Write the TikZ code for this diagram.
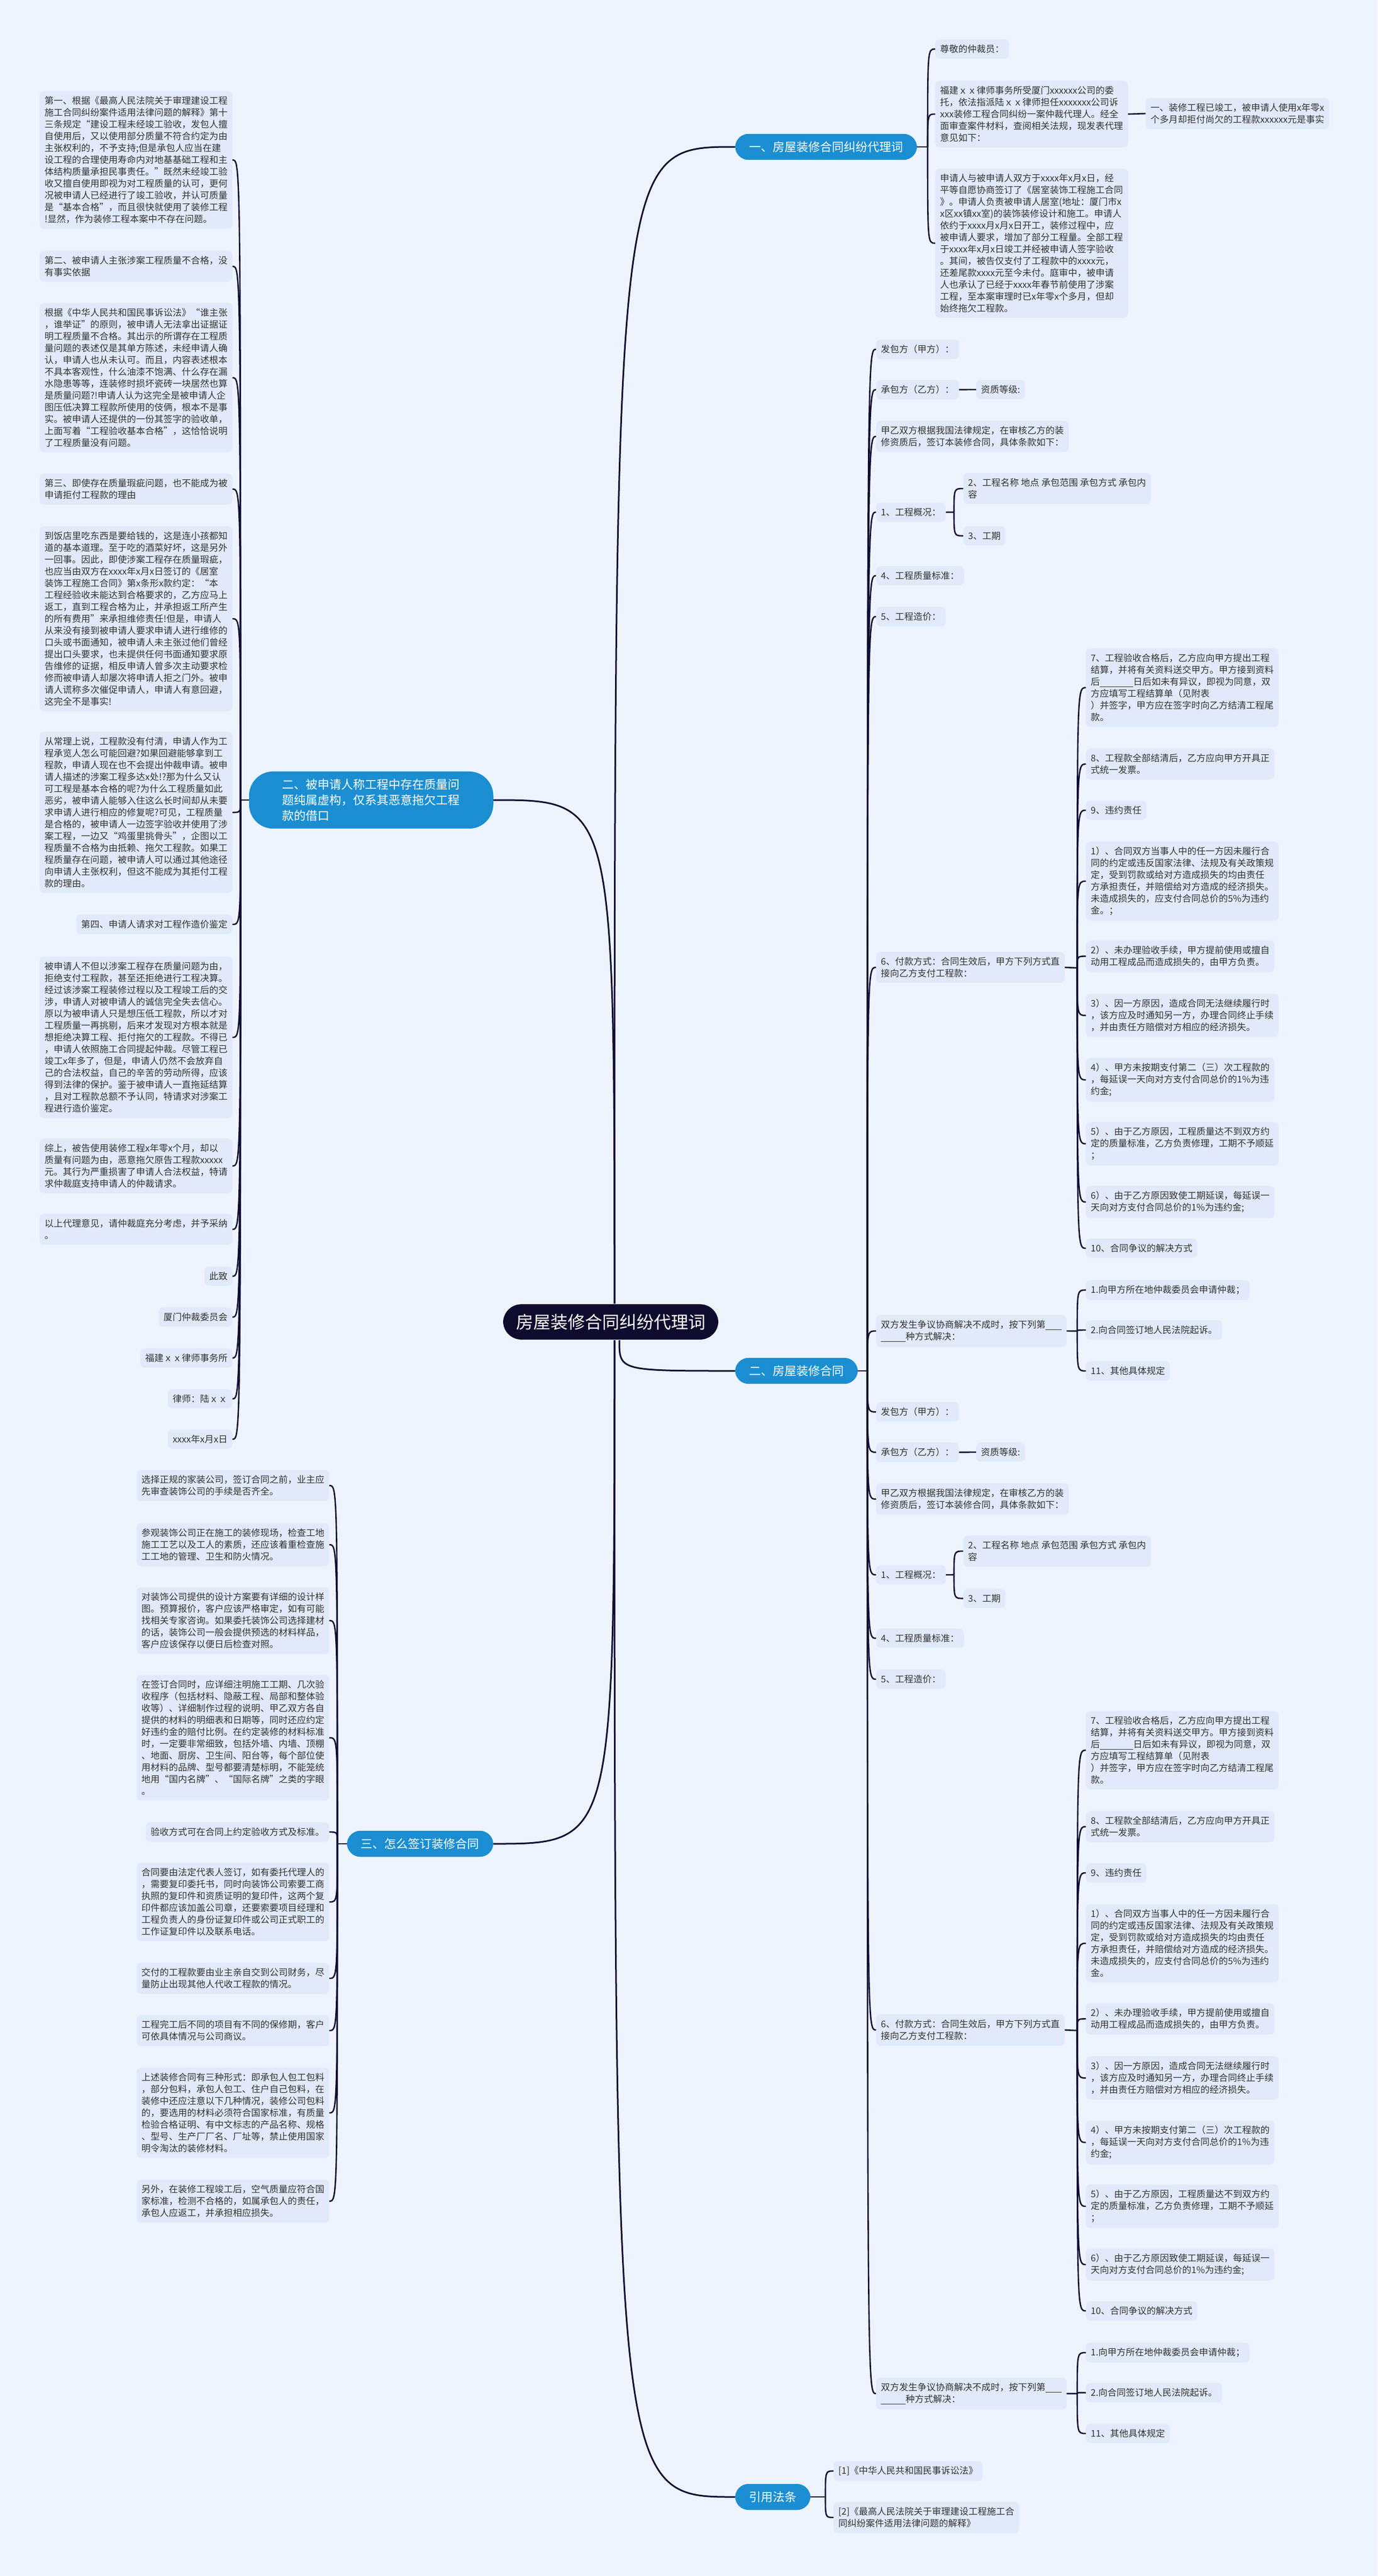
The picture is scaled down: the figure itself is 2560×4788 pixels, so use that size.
\documentclass[tikz,border=0pt]{standalone}
\usepackage{fontspec}
\setmainfont{Noto Sans CJK SC}

\definecolor{paper}{HTML}{EEF4FE}
\definecolor{leafbg}{HTML}{E1EAFB}
\definecolor{leafink}{HTML}{333333}
\definecolor{mainblue}{HTML}{1B8ED2}
\definecolor{rootnavy}{HTML}{0E0B2E}
\definecolor{linknavy}{HTML}{100D33}

\newcommand\leaffont{\fontsize{17}{22}\selectfont}
\newcommand\fillblank[1]{\rule[-3pt]{#1pt}{1pt}}
\newcommand\hookto[3][twig]{\draw[#1] (#2) .. controls (#2 |- #3) .. (#3);}

\tikzset{
  leaf/.style={fill=leafbg, text=leafink, rounded corners=8pt, inner xsep=9pt, inner ysep=10pt, align=left, font=\leaffont},
  leafr/.style={leaf, anchor=north west},
  leafl/.style={leaf, anchor=north east},
  branch/.style={fill=mainblue, text=white, rounded corners=25pt, inner xsep=26pt, inner ysep=14pt, font=\fontsize{22}{29}\selectfont},
  root/.style={fill=rootnavy, text=white, rounded corners=34pt, inner xsep=24pt, inner ysep=18pt, font=\fontsize{32}{40}\selectfont},
  trunk/.style={draw=linknavy, line width=3pt},
  twig/.style={draw=linknavy, line width=2.6pt},
}

\begin{document}
\begin{tikzpicture}[x=1pt, y=-1pt]

\fill[paper] (0,0) rectangle (2560,4788);
\useasboundingbox (0,0) rectangle (2560,4788);

% root and main branches
\node[root] (root) at (1135,2457) {房屋装修合同纠纷代理词};
\node[branch, anchor=west] (agent) at (1366,273) {一、房屋装修合同纠纷代理词};
\node[branch, anchor=east, align=left, minimum width=454pt, minimum height=106pt, rounded corners=45pt] (claim) at (917,1487)
  {二、被申请人称工程中存在质量问\\题纯属虚构，仅系其恶意拖欠工程\\款的借口};
\node[branch, anchor=west] (contract) at (1366,2548) {二、房屋装修合同};
\node[branch, anchor=east] (signing) at (917,3427) {三、怎么签订装修合同};
\node[branch, anchor=west] (law) at (1366,4641) {引用法条};

\coordinate (rtop) at (1142,2423);
\coordinate (rbot) at (1142,2491);
\coordinate (rbot2) at (1151,2491);
\hookto[trunk]{rtop}{agent.west}
\hookto[trunk]{rtop}{claim.east}
\hookto[trunk]{rbot2}{contract.west}
\hookto[trunk]{rbot}{signing.east}
\hookto[trunk]{rbot}{law.west}

% 一、代理词
\node[leafr] (r1) at (1738,73) {尊敬的仲裁员：};
\node[leafr] (r2) at (1738,150) {福建ｘｘ律师事务所受厦门xxxxxx公司的委\\托，依法指派陆ｘｘ律师担任xxxxxxx公司诉\\xxx装修工程合同纠纷一案仲裁代理人。经全\\面审查案件材料，查阅相关法规，现发表代理\\意见如下：};
\node[leafr] (r2a) at (2129,182) {一、装修工程已竣工，被申请人使用x年零x\\个多月却拒付尚欠的工程款xxxxxx元是事实};
\node[leafr] (r3) at (1738,313) {申请人与被申请人双方于xxxx年x月x日，经\\平等自愿协商签订了《居室装饰工程施工合同\\》。申请人负责被申请人居室(地址：厦门市x\\x区xx镇xx室)的装饰装修设计和施工。申请人\\依约于xxxx月x月x日开工，装修过程中，应\\被申请人要求，增加了部分工程量。全部工程\\于xxxx年x月x日竣工并经被申请人签字验收\\。其间，被告仅支付了工程款中的xxxx元，\\还差尾款xxxx元至今未付。庭审中，被申请\\人也承认了已经于xxxx年春节前使用了涉案\\工程，至本案审理时已x年零x个多月，但却\\始终拖欠工程款。};
\coordinate (ha) at (1724,273);
\draw[twig] (agent.east) -- (ha);
\foreach \n in {r1,r2,r3} \hookto{ha}{\n.west};
\draw[twig] (r2.east) -- (r2a.west);

% 二、被申请人称...
\node[leafl] (l1) at (432,169) {第一、根据《最高人民法院关于审理建设工程\\施工合同纠纷案件适用法律问题的解释》第十\\三条规定“建设工程未经竣工验收，发包人擅\\自使用后，又以使用部分质量不符合约定为由\\主张权利的，不予支持;但是承包人应当在建\\设工程的合理使用寿命内对地基基础工程和主\\体结构质量承担民事责任。”既然未经竣工验\\收又擅自使用即视为对工程质量的认可，更何\\况被申请人已经进行了竣工验收，并认可质量\\是“基本合格”，而且很快就使用了装修工程\\!显然，作为装修工程本案中不存在问题。};
\node[leafl] (l2) at (432,466) {第二、被申请人主张涉案工程质量不合格，没\\有事实依据};
\node[leafl] (l3) at (432,563) {根据《中华人民共和国民事诉讼法》“谁主张\\，谁举证”的原则，被申请人无法拿出证据证\\明工程质量不合格。其出示的所谓存在工程质\\量问题的表述仅是其单方陈述，未经申请人确\\认，申请人也从未认可。而且，内容表述根本\\不具本客观性，什么油漆不饱满、什么存在漏\\水隐患等等，连装修时损坏瓷砖一块居然也算\\是质量问题?!申请人认为这完全是被申请人企\\图压低决算工程款所使用的伎俩，根本不是事\\实。被申请人还提供的一份其签字的验收单，\\上面写着“工程验收基本合格”，这恰恰说明\\了工程质量没有问题。};
\node[leafl] (l4) at (432,880) {第三、即使存在质量瑕疵问题，也不能成为被\\申请拒付工程款的理由};
\node[leafl] (l5) at (432,978) {到饭店里吃东西是要给钱的，这是连小孩都知\\道的基本道理。至于吃的酒菜好坏，这是另外\\一回事。因此，即使涉案工程存在质量瑕疵，\\也应当由双方在xxxx年x月x日签订的《居室\\装饰工程施工合同》第x条形x款约定：“本\\工程经验收未能达到合格要求的，乙方应马上\\返工，直到工程合格为止，并承担返工所产生\\的所有费用”来承担维修责任!但是，申请人\\从来没有接到被申请人要求申请人进行维修的\\口头或书面通知，被申请人未主张过他们曾经\\提出口头要求，也未提供任何书面通知要求原\\告维修的证据，相反申请人曾多次主动要求检\\修而被申请人却屡次将申请人拒之门外。被申\\请人谎称多次催促申请人，申请人有意回避，\\这完全不是事实!};
\node[leafl] (l6) at (432,1360) {从常理上说，工程款没有付清，申请人作为工\\程承览人怎么可能回避?如果回避能够拿到工\\程款，申请人现在也不会提出仲裁申请。被申\\请人描述的涉案工程多达x处!?那为什么又认\\可工程是基本合格的呢?为什么工程质量如此\\恶劣，被申请人能够入住这么长时间却从未要\\求申请人进行相应的修复呢?可见，工程质量\\是合格的，被申请人一边签字验收并使用了涉\\案工程，一边又“鸡蛋里挑骨头”，企图以工\\程质量不合格为由抵赖、拖欠工程款。如果工\\程质量存在问题，被申请人可以通过其他途径\\向申请人主张权利，但这不能成为其拒付工程\\款的理由。};
\node[leafl] (l7) at (432,1700) {第四、申请人请求对工程作造价鉴定};
\node[leafl] (l8) at (432,1778) {被申请人不但以涉案工程存在质量问题为由，\\拒绝支付工程款，甚至还拒绝进行工程决算。\\经过该涉案工程装修过程以及工程竣工后的交\\涉，申请人对被申请人的诚信完全失去信心。\\原以为被申请人只是想压低工程款，所以才对\\工程质量一再挑剔，后来才发现对方根本就是\\想拒绝决算工程、拒付拖欠的工程款。不得已\\，申请人依照施工合同提起仲裁。尽管工程已\\竣工x年多了，但是，申请人仍然不会放弃自\\己的合法权益，自己的辛苦的劳动所得，应该\\得到法律的保护。鉴于被申请人一直拖延结算\\，且对工程款总额不予认同，特请求对涉案工\\程进行造价鉴定。};
\node[leafl] (l9) at (432,2116) {综上，被告使用装修工程x年零x个月，却以\\质量有问题为由，恶意拖欠原告工程款xxxxx\\元。其行为严重损害了申请人合法权益，特请\\求仲裁庭支持申请人的仲裁请求。};
\node[leafl] (l10) at (432,2256) {以上代理意见，请仲裁庭充分考虑，并予采纳\\。};
\node[leafl] (l11) at (432,2354) {此致};
\node[leafl] (l12) at (432,2430) {厦门仲裁委员会};
\node[leafl] (l13) at (432,2506) {福建ｘｘ律师事务所};
\node[leafl] (l14) at (432,2582) {律师：陆ｘｘ};
\node[leafl] (l15) at (432,2657) {xxxx年x月x日};
\coordinate (hl) at (447,1487);
\draw[twig] (claim.west) -- (hl);
\foreach \n in {1,...,15} \hookto{hl}{l\n.east};

% 二、房屋装修合同 (the contract text is listed twice)
\coordinate (hc) at (1612,2548);
\draw[twig] (contract.east) -- (hc);
\foreach \off/\k/\tail in {0/a/金。；,1975/b/金。}{
  \node[leafr] (fb\k) at (1628,631+\off) {发包方（甲方）：};
  \node[leafr] (cb\k) at (1628,706+\off) {承包方（乙方）：};
  \node[leafr] (zz\k) at (1814,706+\off) {资质等级:};
  \node[leafr] (jy\k) at (1628,782+\off) {甲乙双方根据我国法律规定，在审核乙方的装\\修资质后，签订本装修合同，具体条款如下：};
  \node[leafr] (gk\k) at (1628,934+\off) {1、工程概况：};
  \node[leafr] (mc\k) at (1790,879+\off) {2、工程名称 地点 承包范围 承包方式 承包内\\容};
  \node[leafr] (gq\k) at (1790,978+\off) {3、工期};
  \node[leafr] (zl\k) at (1628,1052+\off) {4、工程质量标准：};
  \node[leafr] (zj\k) at (1628,1128+\off) {5、工程造价：};
  \node[leafr] (fk\k) at (1628,1769+\off) {6、付款方式：合同生效后，甲方下列方式直\\接向乙方支付工程款：};
  \node[leafr] (k7\k) at (2018,1205+\off) {7、工程验收合格后，乙方应向甲方提出工程\\结算，并将有关资料送交甲方。甲方接到资料\\后\fillblank{62}日后如未有异议，即视为同意，双\\方应填写工程结算单（见附表\\）并签字，甲方应在签字时向乙方结清工程尾\\款。};
  \node[leafr] (k8\k) at (2018,1391+\off) {8、工程款全部结清后，乙方应向甲方开具正\\式统一发票。};
  \node[leafr] (k9\k) at (2018,1488+\off) {9、违约责任};
  \node[leafr] (w1\k) at (2018,1564+\off) {1）、合同双方当事人中的任一方因未履行合\\同的约定或违反国家法律、法规及有关政策规\\定，受到罚款或给对方造成损失的均由责任\\方承担责任，并赔偿给对方造成的经济损失。\\未造成损失的，应支付合同总价的5\%为违约\\\tail};
  \node[leafr] (w2\k) at (2018,1748+\off) {2）、未办理验收手续，甲方提前使用或擅自\\动用工程成品而造成损失的，由甲方负责。};
  \node[leafr] (w3\k) at (2018,1847+\off) {3）、因一方原因，造成合同无法继续履行时\\，该方应及时通知另一方，办理合同终止手续\\，并由责任方赔偿对方相应的经济损失。};
  \node[leafr] (w4\k) at (2018,1966+\off) {4）、甲方未按期支付第二（三）次工程款的\\，每延误一天向对方支付合同总价的1\%为违\\约金;};
  \node[leafr] (w5\k) at (2018,2085+\off) {5）、由于乙方原因，工程质量达不到双方约\\定的质量标准，乙方负责修理，工期不予顺延\\；};
  \node[leafr] (w6\k) at (2018,2204+\off) {6）、由于乙方原因致使工期延误，每延误一\\天向对方支付合同总价的1\%为违约金;};
  \node[leafr] (k10\k) at (2018,2302+\off) {10、合同争议的解决方式};
  \node[leafr] (zy\k) at (1628,2444+\off) {双方发生争议协商解决不成时，按下列第\fillblank{30}\\\fillblank{46}种方式解决：};
  \node[leafr] (s1\k) at (2018,2379+\off) {1.向甲方所在地仲裁委员会申请仲裁；};
  \node[leafr] (s2\k) at (2018,2454+\off) {2.向合同签订地人民法院起诉。};
  \node[leafr] (s11\k) at (2018,2530+\off) {11、其他具体规定};
  % connectors of this copy
  \foreach \n in {fb,cb,jy,gk,zl,zj,fk,zy} \hookto{hc}{\n\k.west};
  \draw[twig] (cb\k.east) -- (zz\k.west);
  \coordinate (hg\k) at (1773,952+\off);
  \draw[twig] (gk\k.east) -- (hg\k);
  \foreach \n in {mc,gq} \hookto{hg\k}{\n\k.west};
  \coordinate (hk\k) at (2002,1799+\off);
  \draw[twig] (fk\k.east) -- (hk\k);
  \foreach \n in {k7,k8,k9,w1,w2,w3,w4,w5,w6,k10} \hookto{hk\k}{\n\k.west};
  \coordinate (hz\k) at (2002,2474+\off);
  \draw[twig] (zy\k.east) -- (hz\k);
  \foreach \n in {s1,s2,s11} \hookto{hz\k}{\n\k.west};
}

% 三、怎么签订装修合同
\node[leafl] (c1) at (612,2732) {选择正规的家装公司，签订合同之前，业主应\\先审查装饰公司的手续是否齐全。};
\node[leafl] (c2) at (612,2831) {参观装饰公司正在施工的装修现场，检查工地\\施工工艺以及工人的素质，还应该着重检查施\\工工地的管理、卫生和防火情况。};
\node[leafl] (c3) at (612,2950) {对装饰公司提供的设计方案要有详细的设计样\\图。预算报价，客户应该严格审定，如有可能\\找相关专家咨询。如果委托装饰公司选择建材\\的话，装饰公司一般会提供预选的材料样品，\\客户应该保存以便日后检查对照。};
\node[leafl] (c4) at (612,3113) {在签订合同时，应详细注明施工工期、几次验\\收程序（包括材料、隐蔽工程、局部和整体验\\收等）、详细制作过程的说明、甲乙双方各自\\提供的材料的明细表和日期等，同时还应约定\\好违约金的赔付比例。在约定装修的材料标准\\时，一定要非常细致，包括外墙、内墙、顶棚\\、地面、厨房、卫生间、阳台等，每个部位使\\用材料的品牌、型号都要清楚标明，不能笼统\\地用“国内名牌”、“国际名牌”之类的字眼\\。};
\node[leafl] (c5) at (612,3387) {验收方式可在合同上约定验收方式及标准。};
\node[leafl] (c6) at (612,3462) {合同要由法定代表人签订，如有委托代理人的\\，需要复印委托书，同时向装饰公司索要工商\\执照的复印件和资质证明的复印件，这两个复\\印件都应该加盖公司章，还要索要项目经理和\\工程负责人的身份证复印件或公司正式职工的\\工作证复印件以及联系电话。};
\node[leafl] (c7) at (612,3648) {交付的工程款要由业主亲自交到公司财务，尽\\量防止出现其他人代收工程款的情况。};
\node[leafl] (c8) at (612,3745) {工程完工后不同的项目有不同的保修期，客户\\可依具体情况与公司商议。};
\node[leafl] (c9) at (612,3843) {上述装修合同有三种形式：即承包人包工包料\\，部分包料，承包人包工、住户自己包料，在\\装修中还应注意以下几种情况，装修公司包料\\的，要选用的材料必须符合国家标准，有质量\\检验合格证明、有中文标志的产品名称、规格\\、型号、生产厂厂名、厂址等，禁止使用国家\\明令淘汰的装修材料。};
\node[leafl] (c10) at (612,4051) {另外，在装修工程竣工后，空气质量应符合国\\家标准，检测不合格的，如属承包人的责任，\\承包人应返工，并承担相应损失。};
\coordinate (hs) at (627,3427);
\draw[twig] (signing.west) -- (hs);
\foreach \n in {1,...,10} \hookto{hs}{c\n.east};

% 引用法条
\node[leafr] (q1) at (1549,4574) {[1]《中华人民共和国民事诉讼法》};
\node[leafr] (q2) at (1549,4650) {[2]《最高人民法院关于审理建设工程施工合\\同纠纷案件适用法律问题的解释》};
\coordinate (hq) at (1534,4641);
\draw[twig] (law.east) -- (hq);
\foreach \n in {q1,q2} \hookto{hq}{\n.west};

\end{tikzpicture}
\end{document}
